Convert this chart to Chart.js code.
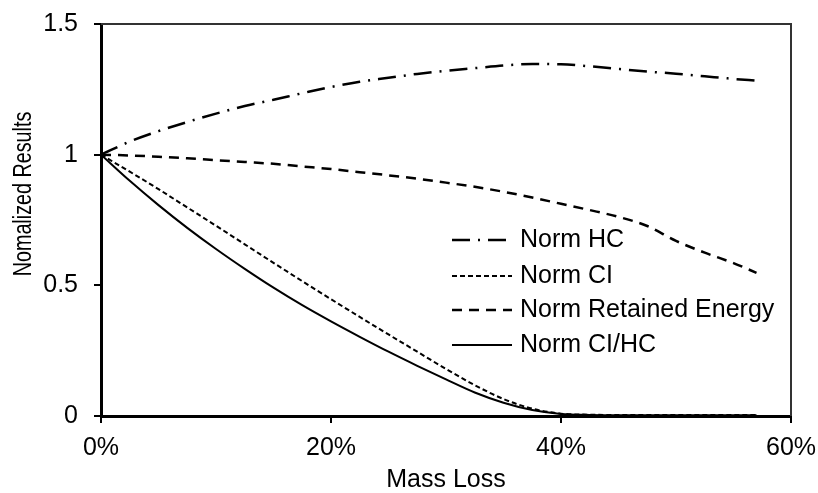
<!DOCTYPE html>
<html>
<head>
<meta charset="utf-8">
<script src="https://cdn.jsdelivr.net/npm/chart.js@4"></script>
<style>
  html, body { margin: 0; padding: 0; background: #fff; }
  #wrap { width: 818px; height: 493px; }
</style>
</head>
<body>
<div id="wrap"><canvas id="chart" width="818" height="493"></canvas></div>
<script>
// x values (mass loss, %)
const massLoss = [0, 2.5, 5, 7.5, 10, 12.5, 15, 17.5, 20, 22.5, 25, 27.5, 30, 32.5, 35, 37.5, 40, 42.5, 45, 47.5, 50, 52.5, 55, 57];

// series
const normHC = [1, 1.05, 1.09, 1.125, 1.157, 1.186, 1.21, 1.235, 1.259, 1.279, 1.294, 1.309, 1.321, 1.331, 1.341, 1.347, 1.346, 1.338, 1.328, 1.318, 1.31, 1.3, 1.29, 1.283];
const normCI = [1, 0.935, 0.868, 0.798, 0.728, 0.657, 0.586, 0.516, 0.447, 0.379, 0.312, 0.246, 0.18, 0.118, 0.065, 0.028, 0.009, 0.005, 0.004, 0.004, 0.004, 0.004, 0.004, 0.004];
const normEnergy = [1, 0.997, 0.992, 0.986, 0.979, 0.972, 0.965, 0.955, 0.945, 0.933, 0.921, 0.908, 0.893, 0.877, 0.858, 0.836, 0.812, 0.788, 0.762, 0.727, 0.67, 0.625, 0.585, 0.548];
const normCIHC = [1, 0.9, 0.807, 0.72, 0.639, 0.563, 0.491, 0.424, 0.362, 0.303, 0.246, 0.192, 0.14, 0.09, 0.051, 0.023, 0.008, 0.004, 0.003, 0.003, 0.003, 0.003, 0.003, 0.003];

const seriesNames = ['Norm HC', 'Norm CI', 'Norm Retained Energy', 'Norm CI/HC'];

const xTicks = [0, 20, 40, 60];
const yTicks = [0, 0.5, 1, 1.5];

const xTitle = 'Mass Loss';
const yTitle = 'Nomalized Results';

const FONT = '"Liberation Sans", Arial, sans-serif';

function pts(ys) {
  return massLoss.map((x, i) => ({ x: x, y: ys[i] }));
}

function makeSet(label, ys, dash, width) {
  return {
    label: label,
    data: pts(ys),
    borderColor: '#000',
    backgroundColor: '#000',
    borderWidth: width,
    borderDash: dash,
    pointRadius: 0,
    fill: false,
    cubicInterpolationMode: 'monotone'
  };
}

// top and right frame lines + y title
const framePlugin = {
  id: 'frame',
  afterDraw(chart) {
    const ctx = chart.ctx;
    const a = chart.chartArea;
    ctx.save();
    ctx.strokeStyle = '#333';
    ctx.lineWidth = 2;
    ctx.beginPath();
    ctx.moveTo(a.left, a.top);
    ctx.lineTo(a.right, a.top);
    ctx.lineTo(a.right, a.bottom);
    ctx.stroke();

    // y title: sits above the middle and is squeezed along its length in the original
    ctx.translate(24, a.top + 170);
    ctx.rotate(-Math.PI / 2);
    ctx.scale(0.79, 1);
    ctx.fillStyle = '#000';
    ctx.font = '25px ' + FONT;
    ctx.textAlign = 'center';
    ctx.textBaseline = 'middle';
    ctx.fillText(yTitle, 0, 0);
    ctx.restore();
  }
};

// legend inside plot
const legendPlugin = {
  id: 'innerLegend',
  afterDraw(chart) {
    const ctx = chart.ctx;
    const a = chart.chartArea;
    const x0 = a.left + 351;
    const rows = [216, 252, 286, 321];
    ctx.save();
    chart.data.datasets.forEach((ds, i) => {
      const y = a.top + rows[i];
      ctx.strokeStyle = '#000';
      ctx.lineWidth = ds.borderWidth;
      ctx.setLineDash(ds.borderDash || []);
      ctx.beginPath();
      ctx.moveTo(x0, y);
      ctx.lineTo(x0 + 60, y);
      ctx.stroke();
      ctx.setLineDash([]);
      ctx.fillStyle = '#000';
      ctx.font = '25px ' + FONT;
      ctx.textBaseline = 'middle';
      ctx.textAlign = 'left';
      ctx.fillText(ds.label, x0 + 68, y);
    });
    ctx.restore();
  }
};

new Chart(document.getElementById('chart'), {
  type: 'line',
  data: {
    datasets: [
      makeSet(seriesNames[0], normHC, [18, 8, 2, 8], 2.5),
      makeSet(seriesNames[1], normCI, [5, 3], 2),
      makeSet(seriesNames[2], normEnergy, [10, 7], 2.5),
      makeSet(seriesNames[3], normCIHC, [], 2)
    ]
  },
  options: {
    responsive: false,
    animation: false,
    layout: { padding: { top: 24, right: 27, left: 0, bottom: 0 } },
    plugins: {
      legend: { display: false },
      tooltip: { enabled: false }
    },
    scales: {
      x: {
        type: 'linear',
        min: 0,
        max: 60,
        afterBuildTicks(scale) { scale.ticks = xTicks.map(v => ({ value: v })); },
        afterFit(scale) {
          scale.height = 77;
          scale.paddingLeft = 0;
          scale.paddingRight = 0;
        },
        ticks: {
          color: '#000',
          font: { family: FONT, size: 25 },
          padding: 10,
          callback: v => v + '%'
        },
        grid: {
          display: true,
          drawOnChartArea: false,
          drawTicks: true,
          tickLength: 7,
          color: '#000',
          lineWidth: 2
        },
        border: { display: true, color: '#000', width: 3 },
        title: {
          display: true,
          text: xTitle,
          color: '#000',
          font: { family: FONT, size: 25, lineHeight: 1.0 },
          padding: { top: 0, bottom: 0 }
        }
      },
      y: {
        min: 0,
        max: 1.5,
        afterBuildTicks(scale) { scale.ticks = yTicks.map(v => ({ value: v })); },
        afterFit(scale) {
          scale.width = 101;
          scale.paddingTop = 0;
          scale.paddingBottom = 0;
        },
        ticks: {
          color: '#000',
          font: { family: FONT, size: 25 },
          padding: 16,
          callback: v => String(v)
        },
        grid: {
          display: true,
          drawOnChartArea: false,
          drawTicks: true,
          tickLength: 7,
          color: '#000',
          lineWidth: 2
        },
        border: { display: true, color: '#000', width: 3 },
        title: { display: false }
      }
    }
  },
  plugins: [framePlugin, legendPlugin]
});
</script>
</body>
</html>
